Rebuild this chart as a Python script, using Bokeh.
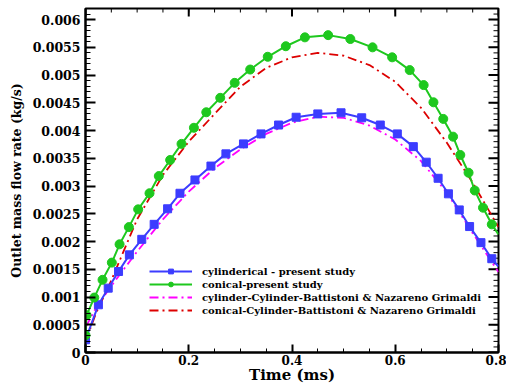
import numpy as np
from bokeh.plotting import figure
from bokeh.models import (Range1d, LinearAxis, SingleIntervalTicker, CustomJSTickFormatter,
                          Legend, LegendItem)
from bokeh.embed import file_html
from bokeh.resources import INLINE

# ---- data ----
cyl_t = [0, 0.025, 0.044, 0.064, 0.085, 0.109, 0.133, 0.159, 0.183, 0.212, 0.243, 0.272,
         0.306, 0.340, 0.374, 0.408, 0.45, 0.495, 0.535, 0.571, 0.604, 0.635, 0.66, 0.683,
         0.703, 0.724, 0.744, 0.766, 0.787]
cyl_v = [0.00023, 0.00086, 0.00116, 0.00146, 0.00176, 0.00204, 0.00231, 0.00259, 0.00287,
         0.00311, 0.00336, 0.00358, 0.00376, 0.00394, 0.0041, 0.00424, 0.0043, 0.00432,
         0.00423, 0.0041, 0.00394, 0.00371, 0.00343, 0.00314, 0.00286, 0.00257, 0.00227,
         0.00198, 0.00169]
cyl_end_t, cyl_end_v = 0.8, 0.00155

con_t = [0, 0.002, 0.017, 0.033, 0.051, 0.066, 0.084, 0.102, 0.124, 0.142, 0.164, 0.186,
         0.210, 0.234, 0.261, 0.289, 0.319, 0.353, 0.388, 0.425, 0.470, 0.513, 0.556, 0.594,
         0.628, 0.655, 0.674, 0.693, 0.712, 0.726, 0.742, 0.754, 0.770, 0.787]
con_v = [0.00031, 0.00067, 0.00099, 0.00131, 0.00162, 0.00195, 0.00226, 0.00258, 0.00287,
         0.00318, 0.00347, 0.00376, 0.00405, 0.00433, 0.00459, 0.00486, 0.0051, 0.00533,
         0.00552, 0.00568, 0.00572, 0.00565, 0.0055, 0.00532, 0.00509, 0.00482, 0.00451,
         0.00421, 0.00389, 0.00356, 0.00324, 0.00292, 0.00261, 0.00231]
con_end_t, con_end_v = 0.8, 0.00213

ref_cyl_t = [0, 0.02, 0.05, 0.1, 0.15, 0.2, 0.25, 0.3, 0.35, 0.4, 0.45, 0.5, 0.55, 0.6,
             0.65, 0.7, 0.75, 0.8]
ref_cyl_v = [0.00045, 0.0008, 0.0012, 0.00182, 0.0024, 0.0029, 0.00332, 0.00366, 0.00394,
             0.00414, 0.00425, 0.00423, 0.00409, 0.00384, 0.00345, 0.00288, 0.00215, 0.00145]

ref_con_t = [0, 0.02, 0.05, 0.1, 0.15, 0.2, 0.25, 0.3, 0.35, 0.4, 0.45, 0.5, 0.55, 0.6,
             0.65, 0.7, 0.75, 0.8]
ref_con_v = [0.0002, 0.0007, 0.0013, 0.0024, 0.0032, 0.0038, 0.0043, 0.00479, 0.00513,
             0.00532, 0.0054, 0.00535, 0.00518, 0.00488, 0.00441, 0.00378, 0.00306, 0.00226]

labels = ["cylinderical - present study", "conical-present study",
          "cylinder-Cylinder-Battistoni & Nazareno Grimaldi",
          "conical-Cylinder-Battistoni & Nazareno Grimaldi"]

X_MAX, Y_MAX = 0.8, 0.0062
X_MAJOR, X_MINOR = 0.2, 0.05
Y_MAJOR, Y_MINOR = 0.0005, 0.0001

FONT = "DejaVu Serif"
BLUE, GREEN, MAGENTA, RED = "#3c3cff", "#1ec81e", "#ff00ff", "#dd0000"

p = figure(width=506, height=389, output_backend="svg", toolbar_location=None,
           x_range=Range1d(0, X_MAX), y_range=Range1d(0, Y_MAX),
           x_axis_type=None, y_axis_type=None,
           min_border_left=85, min_border_right=8, min_border_top=8, min_border_bottom=37)
p.grid.visible = False
p.outline_line_color = "black"
p.outline_line_width = 2

fmt = CustomJSTickFormatter(code="return tick == 0 ? '0' : String(parseFloat(tick.toFixed(5)));")

def make_axis(ticker, label, tick_len, label_size, title_size, lab_standoff, title_standoff):
    ax = LinearAxis(ticker=ticker, formatter=fmt)
    ax.major_tick_in = tick_len
    ax.major_tick_out = 0
    ax.minor_tick_in = tick_len // 2
    ax.minor_tick_out = 0
    ax.axis_line_width = 2
    ax.major_tick_line_width = 2
    ax.minor_tick_line_width = 1
    ax.major_label_text_font = FONT
    ax.major_label_text_font_style = "bold"
    ax.major_label_text_color = "black"
    ax.major_label_text_font_size = label_size
    ax.major_label_standoff = lab_standoff
    ax.axis_label = label
    ax.axis_label_text_font = FONT
    ax.axis_label_text_font_style = "bold"
    ax.axis_label_text_color = "black"
    ax.axis_label_text_font_size = title_size
    ax.axis_label_standoff = title_standoff
    return ax

xt = SingleIntervalTicker(interval=X_MAJOR, num_minor_ticks=4)
yt = SingleIntervalTicker(interval=Y_MAJOR, num_minor_ticks=5)
p.add_layout(make_axis(xt, "Time (ms)", 8, "12px", "15px", 2, -2), "below")
p.add_layout(make_axis(yt, "Outlet mass flow rate (kg/s)", 10, "12.5px", "12.5px", 5, 6), "left")

# mirrored ticks on the top and right frame edges
y_major = np.arange(0, Y_MAX + 1e-12, Y_MAJOR)
y_minor = np.arange(0, Y_MAX + 1e-12, Y_MINOR)
x_major = np.arange(0, X_MAX + 1e-12, X_MAJOR)
x_minor = np.arange(0, X_MAX + 1e-12, X_MINOR)
p.ray(x=[X_MAX] * len(y_minor), y=y_minor, length=5, length_units="screen",
      angle=np.pi, color="black", line_width=1)
p.ray(x=[X_MAX] * len(y_major), y=y_major, length=10, length_units="screen",
      angle=np.pi, color="black", line_width=2)
p.ray(x=x_minor, y=[Y_MAX] * len(x_minor), length=4, length_units="screen",
      angle=-np.pi / 2, color="black", line_width=1)
p.ray(x=x_major, y=[Y_MAX] * len(x_major), length=8, length_units="screen",
      angle=-np.pi / 2, color="black", line_width=2)

DASH = "9 4 2 4"
r_rc = p.line(ref_cyl_t, ref_cyl_v, color=MAGENTA, line_width=1.8, line_dash=DASH)
r_rn = p.line(ref_con_t, ref_con_v, color=RED, line_width=1.8, line_dash=DASH)
r_cl = p.line(cyl_t + [cyl_end_t], cyl_v + [cyl_end_v], color=BLUE, line_width=2)
r_cm = p.scatter(cyl_t, cyl_v, marker="square", size=8, color=BLUE)
r_nl = p.line(con_t + [con_end_t], con_v + [con_end_v], color=GREEN, line_width=2)
r_nm = p.scatter(con_t, con_v, marker="circle", size=9, color=GREEN)

legend = Legend(items=[
    LegendItem(label=labels[0], renderers=[r_cl, r_cm]),
    LegendItem(label=labels[1], renderers=[r_nl, r_nm]),
    LegendItem(label=labels[2], renderers=[r_rc]),
    LegendItem(label=labels[3], renderers=[r_rn]),
], location=(64, 36))
legend.background_fill_alpha = 0
legend.border_line_alpha = 0
legend.padding = 0
legend.margin = 0
legend.spacing = 1
legend.glyph_width = 43
legend.glyph_height = 12
legend.label_height = 12
legend.label_standoff = 10
legend.label_text_font = FONT
legend.label_text_font_style = "bold"
legend.label_text_color = "black"
legend.label_text_font_size = "10px"
p.add_layout(legend, "center")

open("out.html", "w").write(file_html(p, INLINE))
